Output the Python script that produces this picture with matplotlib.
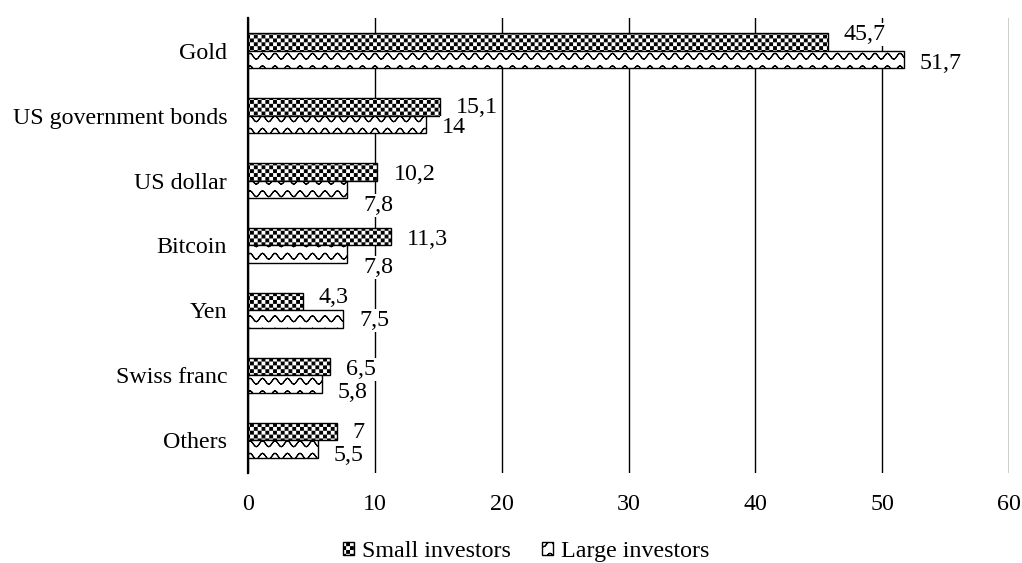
import warnings
import numpy as np
import matplotlib
matplotlib.use("Agg")
import matplotlib.pyplot as plt
import matplotlib.hatch as mhatch
from matplotlib.path import Path

warnings.filterwarnings("ignore")

categories = ["Gold", "US government bonds", "US dollar", "Bitcoin", "Yen", "Swiss franc", "Others"]
small_investors = [45.7, 15.1, 10.2, 11.3, 4.3, 6.5, 7]
large_investors = [51.7, 14, 7.8, 7.8, 7.5, 5.8, 5.5]

# vertical nudges of the value labels (pixels, + = down), as placed in the original
small_dy = [-7, 1, 3, 3, -4, 3, 1]
large_dy = [4, 3, 16, 13, 1, 8, 6]

plt.rcParams["font.family"] = ["Liberation Serif", "DejaVu Serif"]
plt.rcParams["font.size"] = 17.3
plt.rcParams["hatch.linewidth"] = 0.8
plt.rcParams["hatch.color"] = "black"


class CheckerHatch(mhatch.HatchPatternBase):
    # 'c' -> checkerboard of filled squares
    def __init__(self, hatch, density):
        self.n = 26 if "c" in hatch else 0
        self.num_vertices = self.n * self.n // 2 * 5

    def set_vertices_and_codes(self, vertices, codes):
        n = self.n
        s = 1.0 / n
        e = plt.rcParams["hatch.linewidth"] / 144.0
        k = 0
        for i in range(n):
            for j in range(n):
                if (i + j) % 2:
                    continue
                x0, y0, x1, y1 = i * s + e, j * s + e, (i + 1) * s - e, (j + 1) * s - e
                vertices[k:k + 5] = [(x0, y0), (x1, y0), (x1, y1), (x0, y1), (x0, y0)]
                codes[k:k + 5] = [Path.MOVETO, Path.LINETO, Path.LINETO, Path.LINETO, Path.CLOSEPOLY]
                k += 5


class WaveHatch(mhatch.HatchPatternBase):
    # '~' -> rows of waves
    rows, periods, steps = 8, 8, 8

    def __init__(self, hatch, density):
        self.npts = self.periods * self.steps + 1
        self.num_vertices = self.rows * (2 * self.npts - 1) if "~" in hatch else 0

    def set_vertices_and_codes(self, vertices, codes):
        x = np.linspace(0, 1, self.npts)
        wave = 0.03 * np.cos(2 * np.pi * self.periods * x)
        m = 2 * self.npts - 1
        for r in range(self.rows):
            y = (r + 0.5) / self.rows + wave
            xs = np.concatenate([x, x[-2::-1]])
            ys = np.concatenate([y, y[-2::-1]])
            vertices[r * m:(r + 1) * m, 0] = xs
            vertices[r * m:(r + 1) * m, 1] = ys
            codes[r * m:(r + 1) * m] = Path.LINETO
            codes[r * m] = Path.MOVETO


mhatch._hatch_types.append(CheckerHatch)
mhatch._hatch_types.append(WaveHatch)

fig = plt.figure(figsize=(10.22, 5.63), dpi=100)
ax = fig.add_axes([0.2427, 0.1599, 0.7446, 0.8081])

y = np.arange(len(categories))
h = 0.27
ax.barh(y - h / 2, small_investors, height=h, color="white", edgecolor="black",
        linewidth=1, hatch="c", label="Small investors", zorder=3)
ax.barh(y + h / 2, large_investors, height=h, color="white", edgecolor="black",
        linewidth=1, hatch="~", label="Large investors", zorder=3)

lab = dict(textcoords="offset pixels", ha="left", va="center", zorder=4,
           bbox=dict(boxstyle="square,pad=0.05", fc="white", ec="none"))
for i in range(len(categories)):
    ax.annotate(f"{small_investors[i]:g}".replace(".", ","), (small_investors[i], y[i] - h / 2),
                xytext=(16, -small_dy[i]), **lab)
    ax.annotate(f"{large_investors[i]:g}".replace(".", ","), (large_investors[i], y[i] + h / 2),
                xytext=(16, -large_dy[i]), **lab)

ax.set_xlim(0, 60)
ax.set_xticks(range(0, 61, 10))
ax.set_ylim(len(categories) - 0.5, -0.5)
ax.set_yticks(y)
ax.set_yticklabels(categories)
ax.tick_params(axis="y", length=0, pad=15)
ax.tick_params(axis="x", length=0, pad=15)
ax.grid(axis="x", color="black", linewidth=1, zorder=0)
ax.set_axisbelow(True)
for side in ["top", "right", "bottom"]:
    ax.spines[side].set_visible(False)
ax.spines["left"].set_linewidth(1.6)
ax.spines["left"].set_zorder(5)

fig.legend(loc="center", bbox_to_anchor=(0.515, 0.02), ncol=2, frameon=False,
           handlelength=0.45, handleheight=0.45, handletextpad=0.35, columnspacing=1.3,
           borderpad=0)

fig.savefig("out.png", dpi=100)
